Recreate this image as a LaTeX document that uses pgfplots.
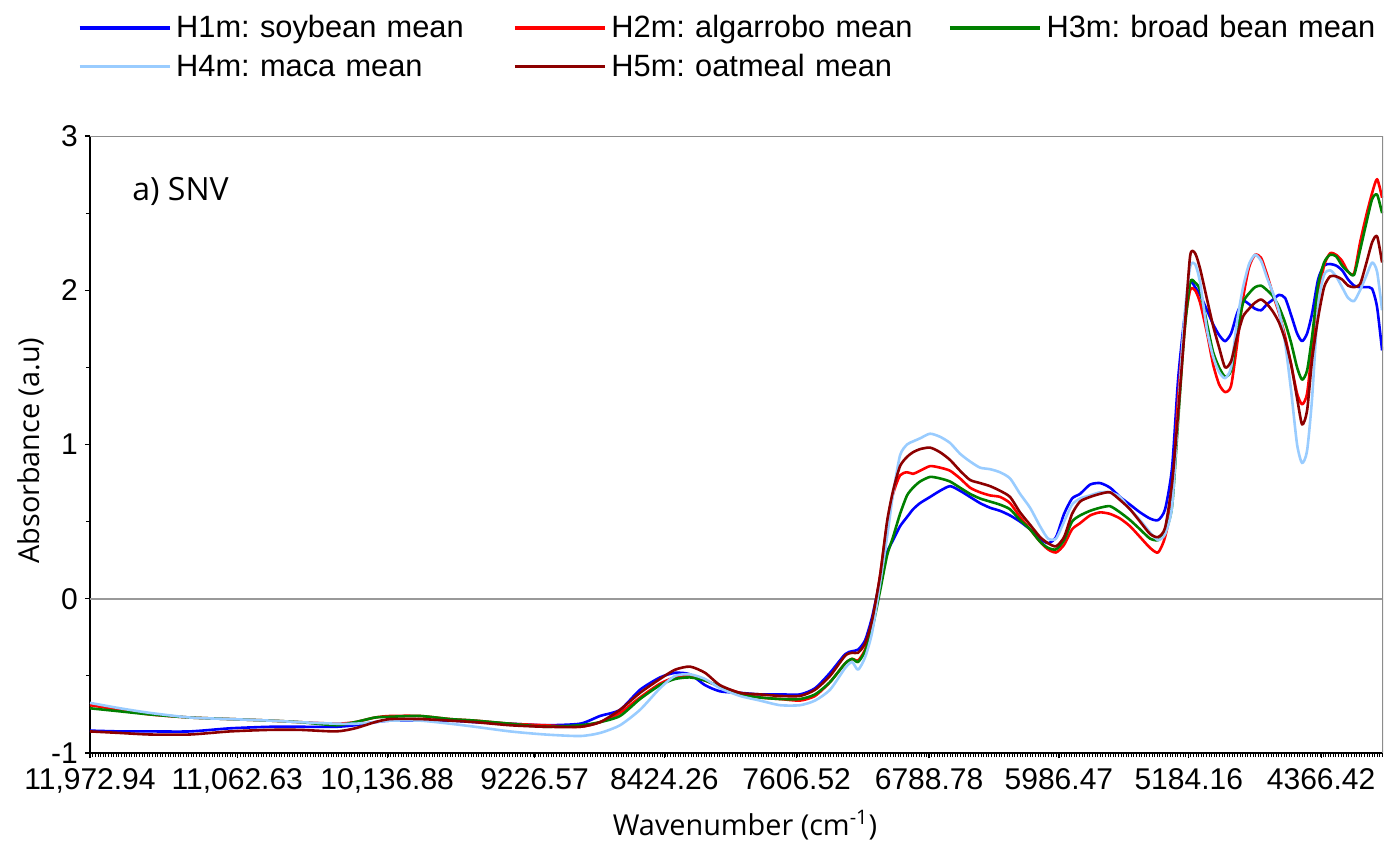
\documentclass[border=0pt]{standalone}
\usepackage{fontspec}
\setmainfont{Liberation Sans}
\newfontfamily\labelfont{Open Sans}
\usepackage{pgfplots}
\usepackage{pgfplotstable}
\pgfplotsset{compat=1.18}
\frenchspacing

\definecolor{cSoy}{RGB}{0,0,255}
\definecolor{cAlg}{RGB}{255,0,0}
\definecolor{cBean}{RGB}{0,128,0}
\definecolor{cMaca}{RGB}{153,204,255}
\definecolor{cOat}{RGB}{140,0,0}

% SNV-corrected mean NIR spectra: wavenumber (cm^-1) and one column per flour
\pgfplotstableread{
w h1 h2 h3 h4 h5
11972.94 -0.855 -0.69 -0.71 -0.675 -0.86
11787.57 -0.86 -0.72 -0.73 -0.71 -0.87
11602.20 -0.86 -0.75 -0.75 -0.74 -0.88
11355.04 -0.86 -0.77 -0.77 -0.77 -0.88
11107.88 -0.84 -0.78 -0.78 -0.78 -0.86
10860.72 -0.83 -0.79 -0.79 -0.79 -0.85
10675.35 -0.83 -0.80 -0.80 -0.80 -0.85
10452.91 -0.83 -0.81 -0.82 -0.81 -0.86
10335.50 -0.82 -0.80 -0.80 -0.81 -0.84
10211.92 -0.80 -0.77 -0.77 -0.80 -0.80
10119.24 -0.79 -0.76 -0.765 -0.79 -0.78
9933.87 -0.79 -0.76 -0.76 -0.79 -0.78
9748.50 -0.79 -0.78 -0.78 -0.81 -0.79
9594.02 -0.80 -0.79 -0.79 -0.83 -0.80
9377.76 -0.81 -0.81 -0.81 -0.86 -0.82
9161.49 -0.82 -0.82 -0.83 -0.88 -0.83
8945.23 -0.81 -0.83 -0.82 -0.89 -0.83
8821.65 -0.76 -0.80 -0.80 -0.87 -0.80
8698.07 -0.72 -0.74 -0.76 -0.82 -0.72
8574.49 -0.59 -0.64 -0.65 -0.72 -0.61
8450.91 -0.51 -0.55 -0.56 -0.58 -0.52
8358.22 -0.48 -0.51 -0.52 -0.50 -0.46
8265.54 -0.49 -0.50 -0.51 -0.49 -0.44
8172.85 -0.56 -0.53 -0.53 -0.52 -0.48
8080.17 -0.60 -0.57 -0.57 -0.58 -0.56
7956.59 -0.61 -0.61 -0.62 -0.63 -0.61
7833.01 -0.62 -0.64 -0.64 -0.66 -0.62
7709.43 -0.62 -0.65 -0.65 -0.69 -0.63
7585.85 -0.62 -0.66 -0.65 -0.69 -0.63
7493.16 -0.58 -0.63 -0.62 -0.66 -0.59
7400.48 -0.48 -0.54 -0.54 -0.59 -0.50
7307.79 -0.36 -0.42 -0.42 -0.45 -0.37
7264.54 -0.34 -0.39 -0.39 -0.41 -0.35
7227.47 -0.33 -0.40 -0.41 -0.46 -0.35
7184.21 -0.27 -0.33 -0.34 -0.38 -0.29
7140.96 -0.12 -0.17 -0.20 -0.22 -0.14
7091.53 0.12 0.15 0.05 0.10 0.15
7048.28 0.30 0.48 0.28 0.40 0.50
7011.20 0.38 0.68 0.40 0.68 0.70
6967.95 0.47 0.80 0.55 0.93 0.86
6924.70 0.53 0.82 0.67 1.00 0.92
6887.62 0.58 0.81 0.72 1.02 0.95
6844.37 0.62 0.83 0.76 1.04 0.97
6782.58 0.66 0.86 0.79 1.07 0.98
6720.79 0.70 0.85 0.78 1.05 0.95
6659.00 0.73 0.83 0.76 1.01 0.90
6597.21 0.70 0.78 0.72 0.94 0.83
6535.42 0.66 0.72 0.68 0.89 0.77
6473.63 0.62 0.69 0.65 0.85 0.75
6411.84 0.59 0.67 0.63 0.84 0.73
6350.05 0.57 0.66 0.61 0.82 0.70
6288.26 0.54 0.62 0.58 0.78 0.66
6226.47 0.50 0.53 0.51 0.68 0.56
6164.68 0.45 0.45 0.45 0.59 0.48
6102.89 0.39 0.37 0.37 0.47 0.40
6053.46 0.36 0.32 0.33 0.39 0.36
6004.03 0.40 0.30 0.32 0.39 0.34
5954.59 0.55 0.35 0.38 0.50 0.40
5905.16 0.65 0.45 0.50 0.61 0.55
5855.73 0.68 0.49 0.54 0.65 0.63
5793.94 0.74 0.54 0.57 0.67 0.66
5732.15 0.75 0.56 0.59 0.69 0.68
5670.36 0.72 0.55 0.60 0.69 0.69
5608.57 0.66 0.52 0.56 0.66 0.64
5546.78 0.61 0.47 0.51 0.58 0.58
5484.99 0.56 0.40 0.45 0.51 0.50
5423.20 0.52 0.33 0.39 0.43 0.42
5373.77 0.51 0.30 0.38 0.38 0.40
5330.51 0.58 0.40 0.43 0.42 0.46
5287.26 0.85 0.65 0.60 0.60 0.75
5250.19 1.42 1.30 1.15 1.20 1.20
5213.11 1.80 1.75 1.70 1.80 1.70
5176.04 2.05 2.00 2.05 2.15 2.22
5145.14 2.02 2.00 2.05 2.17 2.24
5114.25 1.97 1.92 2.00 2.05 2.14
5071.00 1.87 1.72 1.78 1.74 1.94
5033.92 1.78 1.52 1.60 1.57 1.77
4996.85 1.71 1.39 1.50 1.47 1.63
4959.77 1.67 1.34 1.44 1.43 1.50
4922.70 1.72 1.38 1.48 1.50 1.54
4885.63 1.85 1.65 1.72 1.80 1.70
4848.55 1.93 1.95 1.92 2.02 1.83
4811.48 1.91 2.15 1.98 2.17 1.88
4774.40 1.88 2.23 2.02 2.23 1.92
4737.33 1.87 2.21 2.03 2.19 1.94
4700.26 1.91 2.10 2.00 2.08 1.91
4663.18 1.94 1.97 1.96 1.98 1.86
4626.11 1.97 1.85 1.89 1.86 1.79
4589.03 1.95 1.70 1.79 1.66 1.68
4551.96 1.84 1.52 1.66 1.35 1.52
4514.89 1.72 1.33 1.50 1.00 1.30
4483.99 1.67 1.26 1.42 0.88 1.13
4453.10 1.72 1.33 1.48 0.96 1.22
4422.20 1.85 1.62 1.70 1.30 1.55
4385.13 2.07 1.95 2.03 1.90 1.82
4348.05 2.16 2.16 2.18 2.10 2.02
4310.98 2.17 2.24 2.23 2.13 2.09
4273.91 2.16 2.23 2.22 2.09 2.09
4236.83 2.13 2.19 2.16 2.02 2.07
4199.76 2.07 2.12 2.12 1.95 2.03
4162.68 2.03 2.11 2.10 1.93 2.02
4125.61 2.02 2.31 2.26 2.00 2.04
4088.54 2.02 2.48 2.43 2.09 2.17
4051.46 2.01 2.63 2.59 2.18 2.31
4020.57 1.89 2.72 2.62 2.12 2.35
3989.67 1.61 2.60 2.50 1.87 2.18
}\spectra

\begin{document}
\begin{tikzpicture}
\path[use as bounding box] (-45pt,-44pt) rectangle (652.5pt,376.5pt);
\begin{axis}[
  at={(0,0)}, anchor=south west,
  scale only axis, width=646.5pt, height=308.5pt,
  x dir=reverse,
  xmin=3984, xmax=11972.94,
  ymin=-1, ymax=3,
  axis x line*=bottom, axis y line*=left,
  axis line style={black, line width=0.75pt},
  scaled x ticks=false,
  xtick={11972.94,11062.63,10136.88,9226.57,8424.26,7606.52,6788.78,5986.47,5184.16,4366.42},
  xticklabels={{11,972.94},{11,062.63},{10,136.88},9226.57,8424.26,7606.52,6788.78,5986.47,5184.16,4366.42},
  minor xtick={3988,4004,...,11972},
  ytick={-1,0,1,2,3},
  yticklabels={-1,0,1,2,3},
  minor ytick={-0.5,0.5,1.5,2.5},
  tick align=outside,
  major tick length=2.5pt,
  minor tick length=2pt,
  every tick/.style={black, line width=0.6pt},
  minor x tick style={line width=0.3pt},
  /pgf/number format/assume math mode=true,
  tick label style={font=\fontsize{15}{18}\selectfont},
  x tick label style={yshift=-1.5pt},
  extra y ticks={0},
  extra y tick labels={},
  extra y tick style={grid=major, major grid style={draw=black!40, line width=0.75pt}, major tick length=0pt},
  xlabel={\labelfont Wavenumber (cm\textsuperscript{-1})},
  xlabel style={at={(axis description cs:0.5066,-0.1329)}, anchor=base, font=\fontsize{14.4}{17}\selectfont},
  ylabel={\labelfont Absorbance (a.u)},
  ylabel style={at={(axis description cs:-0.0387,0.49)}, anchor=base, font=\fontsize{14.4}{17}\selectfont},
  legend columns=3,
  legend cell align=left,
  legend style={at={(axis description cs:-0.00928,1.1953)}, anchor=north west,
    draw=none, fill=none, inner sep=0pt, outer sep=0pt, row sep=4.75pt,
    font=\fontsize{15.4}{18}\selectfont,
    nodes={inner sep=0pt, text height=11pt, text depth=3.5pt, text width=168.5pt, align=left},
    /tikz/column 1/.style={column sep=2.5pt},
    /tikz/column 3/.style={column sep=2.5pt},
    /tikz/column 5/.style={column sep=2.5pt}},
  legend image code/.code={\draw[#1, line width=1.6pt] (0pt,1pt) -- (45pt,1pt);},
  every axis plot/.append style={line width=1.3pt, line join=round, smooth, tension=0.4},
]
\addplot[cSoy] table[x=w, y=h1] {\spectra};
\addlegendentry{H1m: soybean mean}
\addplot[cAlg] table[x=w, y=h2] {\spectra};
\addlegendentry{H2m: algarrobo mean}
\addplot[cBean] table[x=w, y=h3] {\spectra};
\addlegendentry{H3m: broad bean mean}
\addplot[cMaca] table[x=w, y=h4] {\spectra};
\addlegendentry{H4m: maca mean}
\addplot[cOat] table[x=w, y=h5] {\spectra};
\addlegendentry{H5m: oatmeal mean}
\draw[black!45, line width=1pt] (axis description cs:0,1) -- (axis description cs:1,1) -- (axis description cs:1,0);
\node[anchor=base west, inner sep=0pt, font=\labelfont\fontsize{16}{19}\selectfont] at (axis description cs:0.0325,0.896) {a) SNV};
\end{axis}
\end{tikzpicture}
\end{document}
